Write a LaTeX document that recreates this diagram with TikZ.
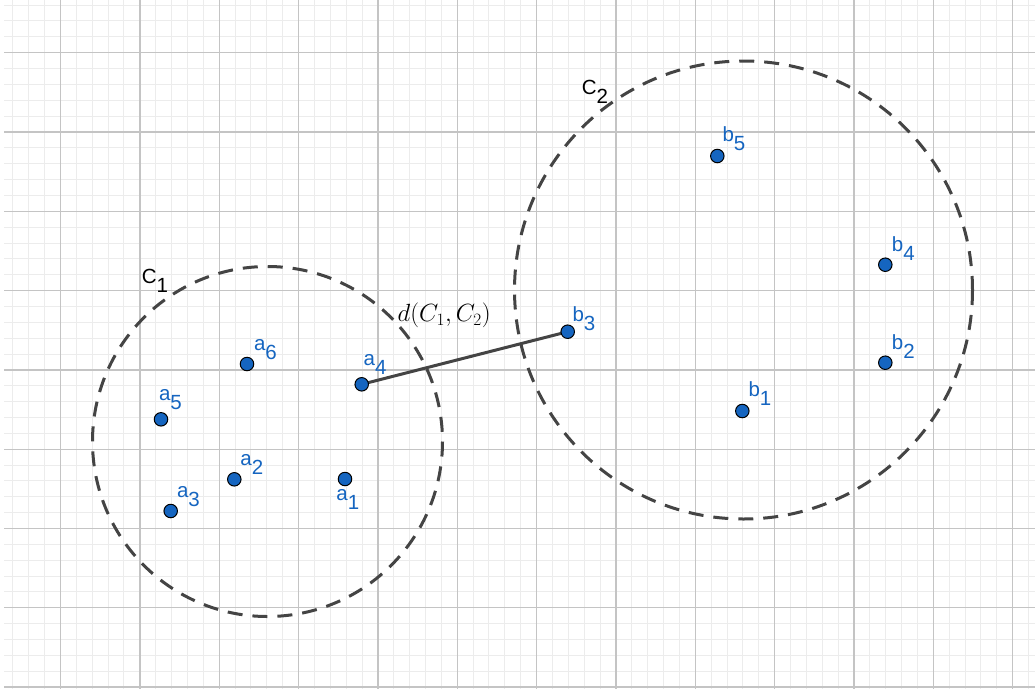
\documentclass[tikz,border=0pt]{standalone}
\usepackage{fontspec}
\setmainfont{Liberation Sans}
\usetikzlibrary{backgrounds}
\definecolor{ptblue}{HTML}{1565C0}
\definecolor{gridmaj}{HTML}{C4C4C4}
\definecolor{gridmin}{HTML}{ECECEC}
\definecolor{dkgray}{HTML}{444444}
\newcommand\lab[2]{#1\raisebox{-9pt}{#2}}
\tikzset{
  pt/.style={circle, fill=ptblue, draw=black, line width=1pt, minimum size=13.5pt, inner sep=0pt},
  lbl/.style={anchor=base west, inner sep=0pt, text=ptblue, font=\fontsize{20.5}{20.5}\selectfont},
  clbl/.style={lbl, text=black},
  ring/.style={draw=dkgray, line width=3pt, dash pattern=on 15pt off 10pt},
  seg/.style={draw=dkgray, line width=3pt},
  minorline/.style={draw=gridmin, line width=1pt},
  majorline/.style={draw=gridmaj, line width=1.3pt}
}
\begin{document}
\begin{tikzpicture}[x=1pt,y=-1pt]
\useasboundingbox (0,0) rectangle (1035,689);
% points
\node[pt] (a1) at (345,479) {};
\node[pt] (a2) at (234.3,479.3) {};
\node[pt] (a3) at (170.7,511) {};
\node[pt] (a4) at (361.7,384.3) {};
\node[pt] (a5) at (161,419.3) {};
\node[pt] (a6) at (247,364) {};
\node[pt] (b1) at (742.3,411) {};
\node[pt] (b2) at (885.3,362.7) {};
\node[pt] (b3) at (567.7,331.7) {};
\node[pt] (b4) at (885.3,264.7) {};
\node[pt] (b5) at (717.3,156) {};
\begin{scope}[on background layer]
  \fill[white] (0,0) rectangle (1035,689);
  \begin{scope}
    \clip (4,0) rectangle (1035,689);
    \foreach \i in {-4,...,66} {
      \draw[minorline] ({60.5+15.87*\i},0) -- ({60.5+15.87*\i},689);
    }
    \foreach \j in {-4,...,41} {
      \draw[minorline] (0,{52.7+15.86*\j}) -- (1035,{52.7+15.86*\j});
    }
    \foreach \i in {-1,...,13} {
      \draw[majorline] ({60.5+79.35*\i},0) -- ({60.5+79.35*\i},689);
    }
    \foreach \j in {-1,...,8} {
      \draw[majorline] (0,{52.7+79.3*\j}) -- (1035,{52.7+79.3*\j});
    }
  \end{scope}
  \draw[ring] (267.5,441.5) circle[radius=175];
  \draw[ring] (743.5,290) circle[radius=229];
  \draw[seg] (a4.center) -- (b3.center);
\end{scope}
% labels
\node[lbl] (la1) at (336.2,500.7) {\lab{a}{1}};
\node[lbl] (la2) at (240.2,465.7) {\lab{a}{2}};
\node[lbl] (la3) at (176.8,497.3) {\lab{a}{3}};
\node[lbl] (la4) at (363.5,365) {\lab{a}{4}};
\node[lbl] (la5) at (158.8,400.7) {\lab{a}{5}};
\node[lbl] (la6) at (253.8,350.7) {\lab{a}{6}};
\node[lbl] (lb1) at (748.3,396.7) {\lab{b}{1}};
\node[lbl] (lb2) at (891.7,349) {\lab{b}{2}};
\node[lbl] (lb3) at (572.3,321) {\lab{b}{3}};
\node[lbl] (lb4) at (891.7,251.7) {\lab{b}{4}};
\node[lbl] (lb5) at (722.3,141) {\lab{b}{5}};
\node[clbl] (lc1) at (141.7,283.3) {\lab{C}{1}};
\node[clbl] (lc2) at (581.7,94) {\lab{C}{2}};
\node[anchor=base west, inner sep=0pt, font=\fontsize{24}{24}\selectfont] (ld) at (397.5,321.7) {$d(C_1,C_2)$};
\end{tikzpicture}
\end{document}
